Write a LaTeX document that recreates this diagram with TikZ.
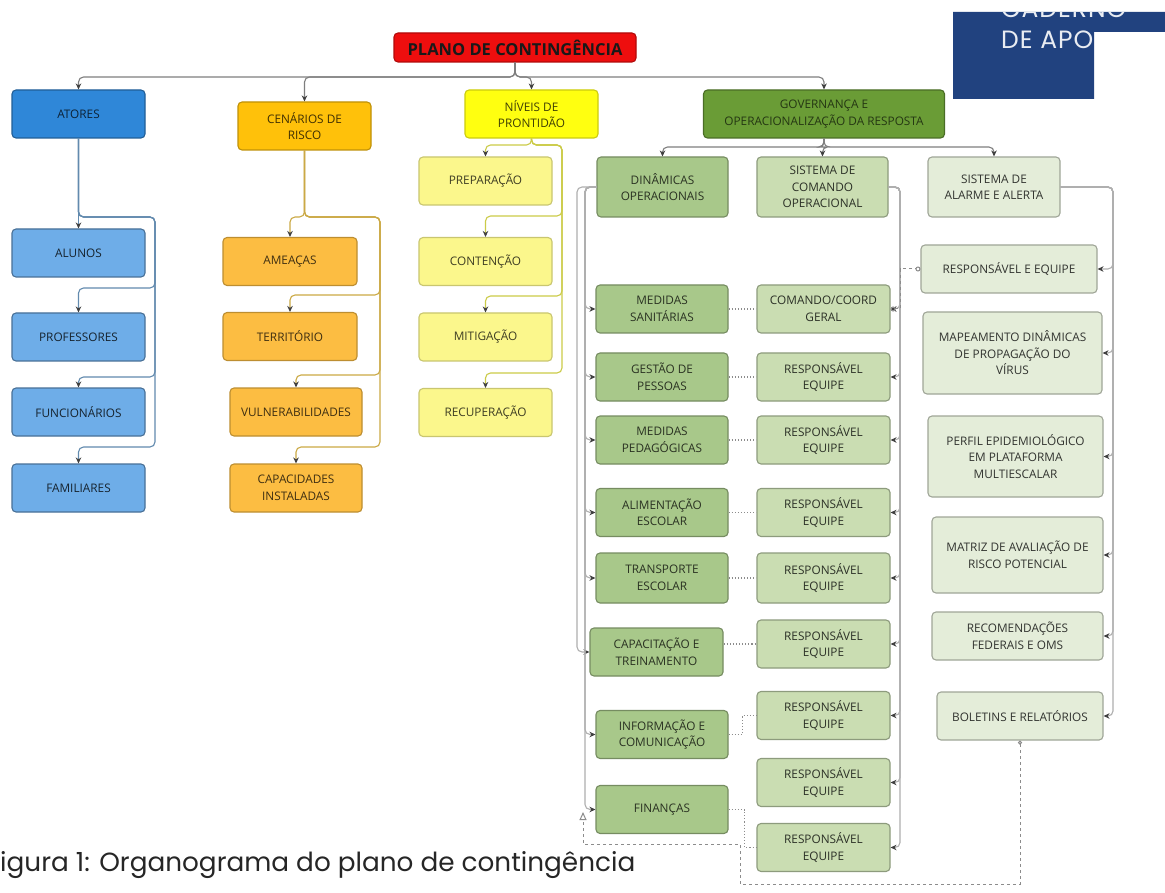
\documentclass[tikz,border=0pt]{standalone}
\usepackage{fontspec}
\setmainfont{Open Sans}
\newfontfamily\capfont{Poppins}
\newfontfamily\cadfont[LetterSpace=4]{Poppins}
\usepackage{tikz}
\usetikzlibrary{arrows.meta,calc}

\definecolor{vermelho}{HTML}{EE0E0E}
\definecolor{azulforte}{HTML}{2F87D8}
\definecolor{azulclaro}{HTML}{6EADE8}
\definecolor{laranja}{HTML}{FFC10A}
\definecolor{laranjaclaro}{HTML}{FCBD42}
\definecolor{amarelo}{HTML}{FFFF10}
\definecolor{amareloclaro}{HTML}{FBF78C}
\definecolor{verdeforte}{HTML}{6A9C36}
\definecolor{verdemedio}{HTML}{A8C88A}
\definecolor{verdeclaro}{HTML}{CADDB2}
\definecolor{verdepalido}{HTML}{E4EDD9}
\definecolor{marinho}{HTML}{21427F}
\definecolor{cinza}{HTML}{8C8C8C}

\newcommand\boxfnt{\fontsize{11.8}{16.5}\selectfont}

\tikzset{
  caixa/.style={rounded corners=4pt, line width=1.1pt, align=center, inner sep=1pt,
    minimum width=133pt, minimum height=48pt, font=\boxfnt},
  titulo/.style={caixa, fill=vermelho, draw=vermelho!75!black, minimum width=242pt,
    minimum height=29pt, font=\fontsize{16.5}{18}\selectfont\bfseries, text=black!90},
  ator/.style={caixa, fill=azulforte, draw=azulforte!70!black, text=azulforte!25!black},
  atorsub/.style={caixa, fill=azulclaro, draw=azulclaro!65!black, text=azulclaro!20!black},
  cenario/.style={caixa, fill=laranja, draw=laranja!75!black, text=laranja!25!black},
  cenariosub/.style={caixa, fill=laranjaclaro, draw=laranjaclaro!75!black, text=laranjaclaro!25!black},
  nivel/.style={caixa, fill=amarelo, draw=amarelo!80!black, text=amarelo!25!black},
  nivelsub/.style={caixa, fill=amareloclaro, draw=amareloclaro!80!black, text=amareloclaro!25!black},
  gov/.style={caixa, fill=verdeforte, draw=verdeforte!70!black, text=verdeforte!35!black},
  dinam/.style={caixa, fill=verdemedio, draw=verdemedio!70!black, text=verdemedio!25!black},
  comando/.style={caixa, fill=verdeclaro, draw=verdeclaro!70!black, text=verdeclaro!22!black},
  alerta/.style={caixa, fill=verdepalido, draw=verdepalido!70!black, text=verdepalido!22!black},
  seta/.style={line width=1.1pt, rounded corners=5pt, -{Stealth[length=6pt,width=5.5pt,color=black!75]}},
  ligatopo/.style={seta, draw=cinza!90!black},
  ligaazul/.style={seta, draw=azulforte!45!cinza},
  ligalaranja/.style={seta, draw=laranja!55!cinza},
  ligaamarela/.style={seta, draw=amarelo!55!cinza},
  ligaverde/.style={seta, draw=cinza!70},
  pontilhado/.style={line width=1.1pt, dotted, draw=cinza},
  tracejado/.style={line width=1pt, dashed, draw=cinza},
  cadtexto/.style={text=white!90!marinho, inner sep=0pt, font=\cadfont\fontsize{25}{28}\selectfont}
}

\begin{document}
\begin{tikzpicture}[x=1pt,y=-1pt]
\useasboundingbox[fill=white] (0,0) rectangle (1165,893);

\fill[marinho] (953,12) -- (1165,12) -- (1165,32) -- (1094,32) -- (1094,99) -- (953,99) -- cycle;
\begin{scope}
\clip (953,12) -- (1165,12) -- (1165,32) -- (1094,32) -- (1094,99) -- (953,99) -- cycle;
\node[cadtexto, anchor=base west] (caderno) at (1001,18) {CADERNO};
\node[cadtexto, anchor=base west] (apoio) at (1001,49) {DE APO};
\end{scope}

\node[titulo] (plano) at (515,47.5) {PLANO DE CONTINGÊNCIA};

\node[ator] (atores) at (78.5,114) {ATORES};
\node[cenario] (cenarios) at (304.5,126) {CENÁRIOS DE\\RISCO};
\node[nivel] (niveis) at (531.5,114) {NÍVEIS DE\\PRONTIDÃO};
\node[gov, minimum width=241pt] (governanca) at (824,114) {GOVERNANÇA E\\OPERACIONALIZAÇÃO DA RESPOSTA};

\node[atorsub] (alunos) at (78.5,253) {ALUNOS};
\node[atorsub] (professores) at (78.5,337) {PROFESSORES};
\node[atorsub] (funcionarios) at (78.5,412) {FUNCIONÁRIOS};
\node[atorsub] (familiares) at (78.5,488) {FAMILIARES};

\node[cenariosub, minimum width=134pt] (ameacas) at (290,261.5) {AMEAÇAS};
\node[cenariosub, minimum width=134pt] (territorio) at (290,336.5) {TERRITÓRIO};
\node[cenariosub, minimum width=132pt] (vulnerabilidades) at (296,412) {VULNERABILIDADES};
\node[cenariosub, minimum width=132pt] (capacidades) at (296,488) {CAPACIDADES\\INSTALADAS};

\node[nivelsub] (preparacao) at (485.5,181) {PREPARAÇÃO};
\node[nivelsub] (contencao) at (485.5,261.5) {CONTENÇÃO};
\node[nivelsub] (mitigacao) at (485.5,337) {MITIGAÇÃO};
\node[nivelsub] (recuperacao) at (485.5,412.5) {RECUPERAÇÃO};

\node[dinam, minimum width=131pt, minimum height=60pt] (dinamicas) at (662.5,187) {DINÂMICAS\\OPERACIONAIS};
\node[comando, minimum width=131pt, minimum height=60pt] (sistcomando) at (822.5,187) {SISTEMA DE\\COMANDO\\OPERACIONAL};
\node[alerta, minimum width=132pt, minimum height=60pt] (alarme) at (994,187) {SISTEMA DE\\ALARME E ALERTA};

\node[dinam, minimum width=132pt] (sanitarias) at (662,309) {MEDIDAS\\SANITÁRIAS};
\node[dinam, minimum width=132pt] (gestao) at (662,377) {GESTÃO DE\\PESSOAS};
\node[dinam, minimum width=132pt] (pedagogicas) at (662,440) {MEDIDAS\\PEDAGÓGICAS};
\node[dinam, minimum width=132pt] (alimentacao) at (662,512.5) {ALIMENTAÇÃO\\ESCOLAR};
\node[dinam, minimum width=132pt, minimum height=50pt] (transporte) at (662,578) {TRANSPORTE\\ESCOLAR};
\node[dinam] (capacitacao) at (656.5,652) {CAPACITAÇÃO E\\TREINAMENTO};
\node[dinam, minimum width=132pt] (informacao) at (662,734.5) {INFORMAÇÃO E\\COMUNICAÇÃO};
\node[dinam, minimum width=132pt] (financas) at (662,809.5) {FINANÇAS};

\node[comando] (coord) at (823.5,309) {COMANDO/COORD\\GERAL};
\node[comando] (resp1) at (823.5,377) {RESPONSÁVEL\\EQUIPE};
\node[comando] (resp2) at (823.5,440) {RESPONSÁVEL\\EQUIPE};
\node[comando] (resp3) at (823.5,512.5) {RESPONSÁVEL\\EQUIPE};
\node[comando, minimum height=50pt] (resp4) at (823.5,578) {RESPONSÁVEL\\EQUIPE};
\node[comando] (resp5) at (823.5,644) {RESPONSÁVEL\\EQUIPE};
\node[comando] (resp6) at (823.5,715.5) {RESPONSÁVEL\\EQUIPE};
\node[comando] (resp7) at (823.5,782.5) {RESPONSÁVEL\\EQUIPE};
\node[comando] (resp8) at (823.5,847.5) {RESPONSÁVEL\\EQUIPE};

\node[alerta, minimum width=176pt] (respequipe) at (1009,269) {RESPONSÁVEL E EQUIPE};
\node[alerta, minimum width=179pt, minimum height=82pt] (mapeamento) at (1012.5,353) {MAPEAMENTO DINÂMICAS\\DE PROPAGAÇÃO DO\\VÍRUS};
\node[alerta, minimum width=175pt, minimum height=81pt] (perfil) at (1015.5,456.5) {PERFIL EPIDEMIOLÓGICO\\EM PLATAFORMA\\MULTIESCALAR};
\node[alerta, minimum width=171pt, minimum height=76pt] (matriz) at (1017.5,555) {MATRIZ DE AVALIAÇÃO DE\\RISCO POTENCIAL};
\node[alerta, minimum width=171pt] (recomendacoes) at (1017.5,636) {RECOMENDAÇÕES\\FEDERAIS E OMS};
\node[alerta, minimum width=166pt] (boletins) at (1020,716) {BOLETINS E RELATÓRIOS};

\node[anchor=base west, inner sep=0pt, text=black!85, font=\capfont\fontsize{26.3}{29}\selectfont] (legenda) at (0,871) {igura 1: Organograma do plano de contingência};

\draw[ligatopo] (plano.south) -- (515,77) -| (atores.north);
\draw[ligatopo] (plano.south) -- (515,77) -| (cenarios.north);
\draw[ligatopo] (plano.south) -- (515,77) -| (niveis.north);
\draw[ligatopo] (plano.south) -- (515,77) -| (governanca.north);

\draw[ligaazul] (atores.south) -- (alunos.north);
\draw[ligaazul] (atores.south) |- (155,217) -- (155,288) -| (professores.north);
\draw[ligaazul] (atores.south) |- (155,217) -- (155,377) -| (funcionarios.north);
\draw[ligaazul] (atores.south) |- (155,217) -- (155,447) -| (familiares.north);

\draw[ligalaranja] (cenarios.south) -- (304.5,217) -| (ameacas.north);
\draw[ligalaranja] (cenarios.south) -- (304.5,217) -- (380,217) -- (380,295) -| (territorio.north);
\draw[ligalaranja] (cenarios.south) -- (304.5,217) -- (380,217) -- (380,375) -| (vulnerabilidades.north);
\draw[ligalaranja] (cenarios.south) -- (304.5,217) -- (380,217) -- (380,447) -| (capacidades.north);

\draw[ligaamarela] (niveis.south) -- (531.5,145) -| (preparacao.north);
\draw[ligaamarela] (niveis.south) -- (531.5,145) -| (562,216) -| (contencao.north);
\draw[ligaamarela] (niveis.south) -- (531.5,145) -| (562,296) -| (mitigacao.north);
\draw[ligaamarela] (niveis.south) -- (531.5,145) -| (562,373) -| (recuperacao.north);

\draw[ligatopo] (governanca.south) -- (824,147) -| (dinamicas.north);
\draw[ligatopo] (governanca.south) -- (824,147) -| (sistcomando.north);
\draw[ligatopo] (governanca.south) -- (824,147) -| (alarme.north);

\draw[ligaverde] (dinamicas.west) -- (585,187) |- (sanitarias.west);
\draw[ligaverde] (dinamicas.west) -- (585,187) |- (gestao.west);
\draw[ligaverde] (dinamicas.west) -- (585,187) |- (pedagogicas.west);
\draw[ligaverde] (dinamicas.west) -- (585,187) |- (alimentacao.west);
\draw[ligaverde] (dinamicas.west) -- (585,187) |- (transporte.west);
\draw[ligaverde] (dinamicas.west) -- (577,187) |- (capacitacao.west);
\draw[ligaverde] (dinamicas.west) -- (585,187) |- (informacao.west);
\draw[ligaverde] (dinamicas.west) -- (585,187) |- (financas.west);

\draw[ligaverde] (sistcomando.east) -- (900,187) |- (resp1.east);
\draw[ligaverde] (sistcomando.east) -- (900,187) |- (resp2.east);
\draw[ligaverde] (sistcomando.east) -- (900,187) |- (resp3.east);
\draw[ligaverde] (sistcomando.east) -- (900,187) |- (resp4.east);
\draw[ligaverde] (sistcomando.east) -- (900,187) |- (resp5.east);
\draw[ligaverde] (sistcomando.east) -- (900,187) |- (resp6.east);
\draw[ligaverde] (sistcomando.east) -- (900,187) |- (resp7.east);
\draw[ligaverde] (sistcomando.east) -- (900,187) |- (resp8.east);
\draw[ligaverde] (sistcomando.east) -- (900,187) |- (coord.east);

\draw[ligaverde] (alarme.east) -- (1113,187) |- (respequipe.east);
\draw[ligaverde] (alarme.east) -- (1113,187) |- (mapeamento.east);
\draw[ligaverde] (alarme.east) -- (1113,187) |- (perfil.east);
\draw[ligaverde] (alarme.east) -- (1113,187) |- (matriz.east);
\draw[ligaverde] (alarme.east) -- (1113,187) |- (recomendacoes.east);
\draw[ligaverde] (alarme.east) -- (1113,187) |- (boletins.east);

\draw[tracejado, {Circle[open,length=5pt]}-{Circle[open,length=5pt]}] (coord.east) -- (900,309) |- (respequipe.west);

\draw[pontilhado] (sanitarias.east) -- (coord.west);
\draw[pontilhado] (gestao.east) -- (resp1.west);
\draw[pontilhado] (pedagogicas.east) -- (resp2.west);
\draw[pontilhado] (alimentacao.east) -- (resp3.west);
\draw[pontilhado] (transporte.east) -- (resp4.west);
\draw[pontilhado] (capacitacao.east |- resp5.west) -- (resp5.west);
\draw[pontilhado] (informacao.east) -- ++(14,0) |- (resp6.west);
\draw[pontilhado] (financas.east) -- ++(16,0) |- (resp8.west);

\coordinate (retorno) at (583,812);
\draw[tracejado, {Circle[open,length=4pt]}-{Triangle[open,length=8pt,width=7pt]}] (boletins.south) -- (1020,884) -- (740,884) -- (740,844) -| (retorno);
\end{tikzpicture}
\end{document}
